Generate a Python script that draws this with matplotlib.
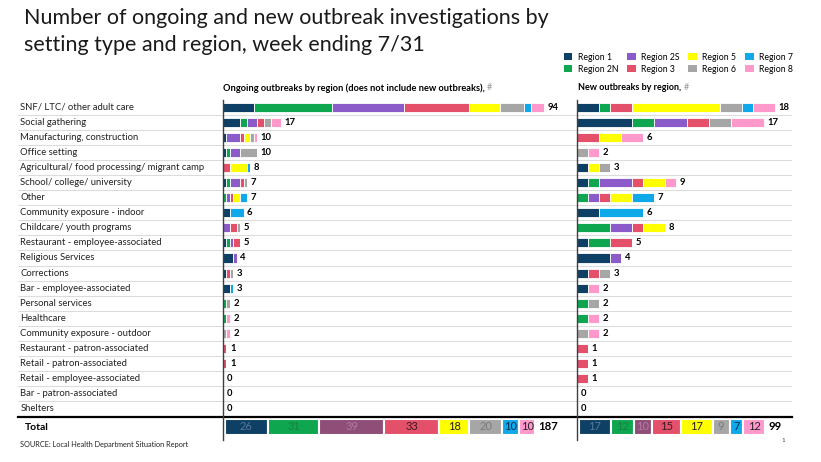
import numpy as np
import matplotlib
matplotlib.use('Agg')
import matplotlib.pyplot as plt
from matplotlib.patches import Patch
from matplotlib.lines import Line2D

plt.rcParams['font.family'] = ['Lato', 'DejaVu Sans']

settings = ["SNF/ LTC/ other adult care", "Social gathering", "Manufacturing, construction",
            "Office setting", "Agricultural/ food processing/ migrant camp",
            "School/ college/ university", "Other", "Community exposure - indoor",
            "Childcare/ youth programs", "Restaurant - employee-associated",
            "Religious Services", "Corrections", "Bar - employee-associated",
            "Personal services", "Healthcare", "Community exposure - outdoor",
            "Restaurant - patron-associated", "Retail - patron-associated",
            "Retail - employee-associated", "Bar - patron-associated", "Shelters"]
regions = ["Region 1", "Region 2N", "Region 2S", "Region 3",
           "Region 5", "Region 6", "Region 7", "Region 8"]

# ongoing outbreaks (not incl. new), one list per region, rows in settings order
ongoing_r1 = [9, 5, 1, 1, 0, 1, 0, 2, 0, 1, 3, 1, 2, 0, 0, 0, 0, 0, 0, 0, 0]
ongoing_r2n = [23, 2, 0, 1, 0, 1, 1, 0, 0, 1, 0, 0, 0, 1, 1, 0, 0, 0, 0, 0, 0]
ongoing_r2s = [21, 3, 4, 3, 0, 3, 1, 0, 2, 1, 1, 0, 0, 0, 0, 0, 0, 0, 0, 0, 0]
ongoing_r3 = [19, 2, 1, 0, 2, 1, 1, 0, 2, 2, 0, 1, 0, 0, 0, 0, 1, 1, 0, 0, 0]
ongoing_r5 = [9, 0, 2, 0, 5, 0, 2, 0, 0, 0, 0, 0, 0, 0, 0, 0, 0, 0, 0, 0, 0]
ongoing_r6 = [7, 2, 1, 5, 0, 1, 0, 0, 1, 0, 0, 1, 0, 1, 0, 1, 0, 0, 0, 0, 0]
ongoing_r7 = [2, 0, 0, 0, 1, 0, 2, 4, 0, 0, 0, 0, 1, 0, 0, 0, 0, 0, 0, 0, 0]
ongoing_r8 = [4, 3, 1, 0, 0, 0, 0, 0, 0, 0, 0, 0, 0, 0, 1, 1, 0, 0, 0, 0, 0]

# new outbreaks
new_r1 = [2, 5, 0, 0, 1, 1, 0, 2, 0, 1, 3, 1, 1, 0, 0, 0, 0, 0, 0, 0, 0]
new_r2n = [1, 2, 0, 0, 0, 1, 1, 0, 3, 2, 0, 0, 0, 1, 1, 0, 0, 0, 0, 0, 0]
new_r2s = [0, 3, 0, 0, 0, 3, 1, 0, 2, 0, 1, 0, 0, 0, 0, 0, 0, 0, 0, 0, 0]
new_r3 = [2, 2, 2, 0, 0, 1, 1, 0, 1, 2, 0, 1, 0, 0, 0, 0, 1, 1, 1, 0, 0]
new_r5 = [8, 0, 2, 0, 1, 2, 2, 0, 2, 0, 0, 0, 0, 0, 0, 0, 0, 0, 0, 0, 0]
new_r6 = [2, 2, 0, 1, 1, 0, 0, 0, 0, 0, 0, 1, 0, 1, 0, 1, 0, 0, 0, 0, 0]
new_r7 = [1, 0, 0, 0, 0, 0, 2, 4, 0, 0, 0, 0, 0, 0, 0, 0, 0, 0, 0, 0, 0]
new_r8 = [2, 3, 2, 1, 0, 1, 0, 0, 0, 0, 0, 0, 1, 0, 1, 1, 0, 0, 0, 0, 0]

ongoing = np.array([ongoing_r1, ongoing_r2n, ongoing_r2s, ongoing_r3,
                    ongoing_r5, ongoing_r6, ongoing_r7, ongoing_r8])
new = np.array([new_r1, new_r2n, new_r2s, new_r3, new_r5, new_r6, new_r7, new_r8])

colors = ['#0d4064', '#0ea64f', '#8b5bc9', '#e4506a', '#ffff00', '#a6a6a6', '#0fa9ea', '#ff99cc']
total_colors = ['#0d4064', '#0ea64f', '#8f4e78', '#e4506a', '#ffff00', '#a6a6a6', '#0fa9ea', '#ff99cc']
total_text = ['#56789a', '#1b7e44', '#b07ba2', '#3a1a22', '#222222', '#7a7a7a', '#0a2b4a', '#222222']

W, H = 821, 462
def fx(x):
    return x / W
def fy(y):
    return 1 - y / H

fig = plt.figure(figsize=(8.21, 4.62), dpi=100)

top, bot = 99.5, 416.5
n = len(settings)

# row separators + labels
bg = fig.add_axes([fx(18), fy(bot), (792 - 18) / W, (bot - top) / H])
bg.axis('off')
bg.set_xlim(0, 1)
bg.set_ylim(n - 0.5, -0.5)
bg.hlines(np.arange(0.5, n - 1, 1), 0, 1, color='#dcdcdc', lw=0.8)
bg.axhline(n - 0.5, color='black', lw=1.6, clip_on=False)
for i, s in enumerate(settings):
    bg.text(0.003, i, s, ha='left', va='center', fontsize=6.8, color='#222222')

def stacked(ax, data, x0, x1, scale):
    ax.set_xlim(0, (x1 - x0) / scale)
    ax.set_ylim(n - 0.5, -0.5)
    ax.axis('off')
    y = np.arange(n)
    left = np.zeros(n)
    for k in range(len(regions)):
        ax.barh(y, data[k], left=left, height=0.6, color=colors[k],
                edgecolor='white', linewidth=0.6)
        left += data[k]
    for i, t in enumerate(left):
        ax.annotate(str(int(t)), (t, i), xytext=(2.5, 0), textcoords='offset points',
                    ha='left', va='center', fontsize=6.8, weight='bold')

ax1 = fig.add_axes([fx(223), fy(bot), (570 - 223) / W, (bot - top) / H])
stacked(ax1, ongoing, 223, 570, 3.42)
ax2 = fig.add_axes([fx(577), fy(bot), (792 - 577) / W, (bot - top) / H])
stacked(ax2, new, 577, 792, 11.0)

def totals(data, x0, x1, scale):
    tax = fig.add_axes([fx(x0), fy(435), (x1 - x0) / W, 16 / H])
    tax.set_xlim(-1, (x1 - x0) / scale)
    tax.set_ylim(-0.5, 0.5)
    tax.axis('off')
    sums = data.sum(axis=1)
    left = 0
    for k, v in enumerate(sums):
        tax.barh(0, v, left=left, height=1, color=total_colors[k],
                 edgecolor='white', linewidth=1.5)
        tax.text(left + v / 2, 0, str(v), ha='center', va='center',
                 fontsize=8, color=total_text[k])
        left += v
    tax.annotate(str(int(left)), (left, 0), xytext=(2, 0), textcoords='offset points',
                 ha='left', va='center', fontsize=8.2, weight='bold')

totals(ongoing, 223, 570, 1.67)
totals(new, 577, 792, 1.9)

# vertical axis lines
for xv in (223, 577):
    fig.add_artist(Line2D([fx(xv), fx(xv)], [fy(100), fy(440)],
                          transform=fig.transFigure, color='#404040', lw=1.0))

fig.text(fx(25), fy(427), 'Total', ha='left', va='center', fontsize=7.5, weight='bold')

# panel headers
h1 = fig.text(fx(223), fy(88), 'Ongoing outbreaks by region (does not include new outbreaks), ',
              ha='left', va='center', fontsize=6.7, weight='bold')
bg.annotate('#', xy=(1, 0.5), xycoords=h1, ha='left', va='center', fontsize=6.5,
            color='#999999', annotation_clip=False)
h2 = fig.text(fx(578), fy(88), 'New outbreaks by region, ',
              ha='left', va='center', fontsize=6.5, weight='bold')
bg.annotate('#', xy=(1, 0.5), xycoords=h2, ha='left', va='center', fontsize=6.5,
            color='#999999', annotation_clip=False)

# title
fig.text(fx(24), fy(8), 'Number of ongoing and new outbreak investigations by\n'
         'setting type and region, week ending 7/31',
         ha='left', va='top', fontsize=15.5, weight='normal', linespacing=1.42, color='#1a1a1a')

handles = [Patch(facecolor=c, label=r) for c, r in zip(colors, regions)]
fig.legend(handles=handles, ncol=4, loc='upper left', bbox_to_anchor=(fx(560), fy(49)),
           frameon=False, fontsize=6.3, handlelength=1.0, handleheight=1.0,
           columnspacing=1.0, handletextpad=0.6, labelspacing=0.35, borderaxespad=0)

fig.text(fx(20), fy(445), 'SOURCE: Local Health Department Situation Report',
         ha='left', va='center', fontsize=5.3, color='#222222')
fig.text(fx(781), fy(441), '1', ha='left', va='center', fontsize=4.5, color='#444444')

fig.savefig('out.png', dpi=100)
